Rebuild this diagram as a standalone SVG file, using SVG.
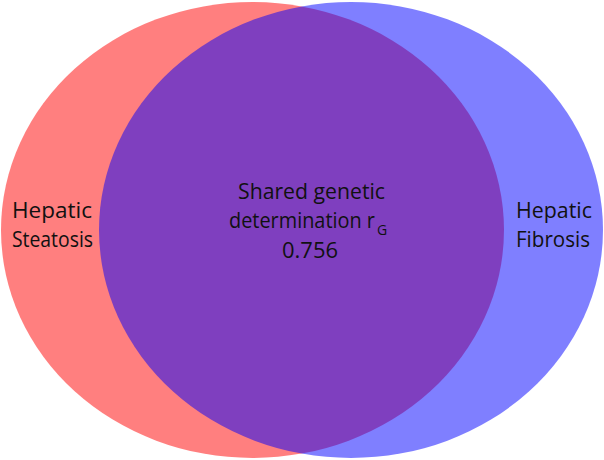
<svg xmlns="http://www.w3.org/2000/svg" width="604" height="460" viewBox="0 0 604 460">
<style>
text{font-family:"Open Sans","Liberation Sans",sans-serif;font-size:22px;fill:#111;}
.s{font-size:14px;}
</style>
<rect width="604" height="460" fill="#fff"/>
<g id="steatosis">
<ellipse cx="252.5" cy="230" rx="251.5" ry="228" fill="#ff0000" fill-opacity="0.5"/>
<text x="12" y="218" textLength="80" lengthAdjust="spacingAndGlyphs">Hepatic</text>
<text x="12" y="247" textLength="81" lengthAdjust="spacingAndGlyphs">Steatosis</text>
</g>
<g id="fibrosis">
<ellipse cx="351" cy="230" rx="252" ry="228" fill="#0000ff" fill-opacity="0.5"/>
<text x="516" y="218" textLength="76" lengthAdjust="spacingAndGlyphs">Hepatic</text>
<text x="516" y="247" textLength="74" lengthAdjust="spacingAndGlyphs">Fibrosis</text>
</g>
<g id="shared">
<text x="238" y="199" textLength="147" lengthAdjust="spacingAndGlyphs">Shared genetic</text>
<text x="229" y="228"><tspan textLength="146" lengthAdjust="spacingAndGlyphs">determination r</tspan><tspan class="s" x="377" dy="7">G</tspan></text>
<text x="282" y="258" textLength="56" lengthAdjust="spacingAndGlyphs">0.756</text>
</g>
</svg>
